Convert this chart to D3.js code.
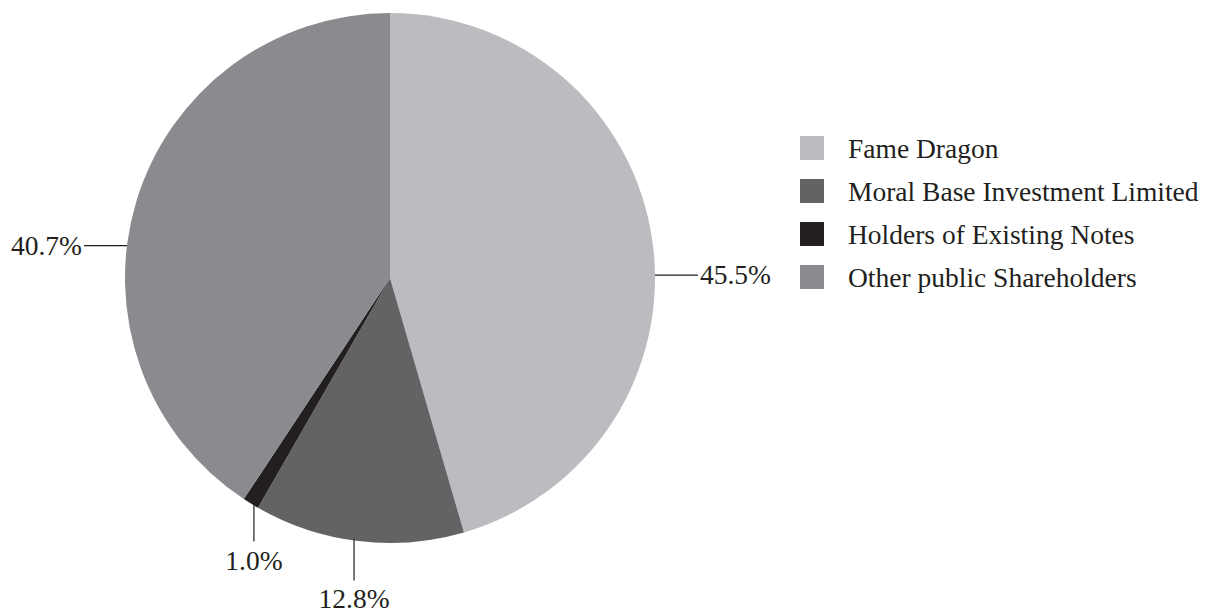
<!DOCTYPE html>
<html>
<head>
<meta charset="utf-8">
<script src="https://cdn.jsdelivr.net/npm/d3@7"></script>
<style>
  body { margin: 0; background: #fff; }
  text { font-family: "Liberation Serif", "Times New Roman", serif; fill: #231f20; }
</style>
</head>
<body>
<div id="chart"></div>
<script>
const categories = ["Fame Dragon", "Moral Base Investment Limited", "Holders of Existing Notes", "Other public Shareholders"];
const shares = [45.5, 12.8, 1.0, 40.7];
const labels = ["45.5%", "12.8%", "1.0%", "40.7%"];
const colors = ["#bcbcc0", "#636365", "#231f20", "#8a8b8f"];

const width = 1207, height = 615;
const cx = 390, cy = 278, radius = 265;

// how each callout leaves the pie: side lines or a drop line
const callout = [
    { dir: "right", angle: 89.4 },
    { dir: "down", angle: 187.8, len: 40, gap: 27 },
    { dir: "down", angle: 210.9, len: 36, gap: 29 },
    { dir: "left", angle: 277 }
];

const svg = d3.select("#chart")
    .append("svg")
    .attr("width", width)
    .attr("height", height);

const pie = d3.pie().sort(null).value(d => d);
const arcs = pie(shares);
const arc = d3.arc().innerRadius(0).outerRadius(radius);

const g = svg.append("g").attr("transform", `translate(${cx}, ${cy})`);

g.selectAll("path")
    .data(arcs)
    .enter()
    .append("path")
    .attr("d", arc)
    .attr("fill", (d, i) => colors[i]);

const fs = 27.5;
arcs.forEach((d, i) => {
    const c = callout[i];
    const a = c.angle * Math.PI / 180;
    const x0 = radius * Math.sin(a), y0 = -radius * Math.cos(a);
    if (c.dir === "right" || c.dir === "left") {
        const s = c.dir === "right" ? 1 : -1;
        const x1 = x0 + s * 43;
        g.append("line")
            .attr("x1", x0).attr("y1", y0).attr("x2", x1).attr("y2", y0)
            .attr("stroke", "#231f20").attr("stroke-width", 1.2);
        g.append("text")
            .attr("x", x1 + s * 2).attr("y", y0 + 9)
            .attr("text-anchor", s > 0 ? "start" : "end")
            .attr("font-size", fs)
            .text(labels[i]);
    } else {
        g.append("line")
            .attr("x1", x0).attr("y1", y0 - 2).attr("x2", x0).attr("y2", y0 + c.len)
            .attr("stroke", "#231f20").attr("stroke-width", 1.2);
        g.append("text")
            .attr("x", x0).attr("y", y0 + c.len + c.gap)
            .attr("text-anchor", "middle")
            .attr("font-size", fs)
            .text(labels[i]);
    }
});

const legend = svg.append("g").attr("transform", "translate(800, 148)");
const row = legend.selectAll("g")
    .data(categories)
    .enter()
    .append("g")
    .attr("transform", (d, i) => `translate(0, ${i * 43})`);

row.append("rect")
    .attr("x", 0).attr("y", -12)
    .attr("width", 24).attr("height", 24)
    .attr("fill", (d, i) => colors[i]);

row.append("text")
    .attr("x", 48).attr("y", 10)
    .attr("font-size", fs)
    .text(d => d);
</script>
</body>
</html>
